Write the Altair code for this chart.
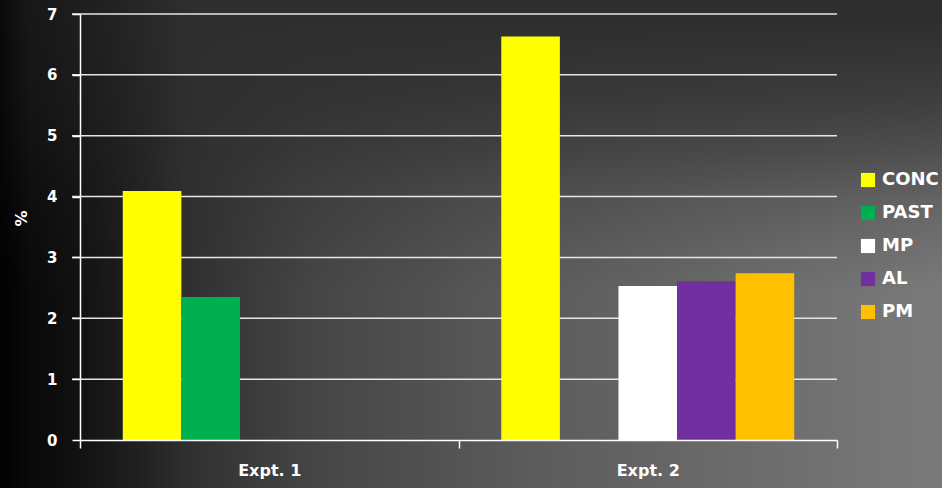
import altair as alt
import pandas as pd

experiments = ["Expt. 1", "Expt. 2"]
series = ["CONC", "PAST", "MP", "AL", "PM"]
colors = ["#FFFF00", "#00B050", "#FFFFFF", "#7030A0", "#FFC000"]
expt1_values = {"CONC": 4.09, "PAST": 2.35}
expt2_values = {"CONC": 6.63, "MP": 2.53, "AL": 2.61, "PM": 2.74}
y_ticks = [0, 1, 2, 3, 4, 5, 6, 7]

rows = []
for s, v in expt1_values.items():
    rows.append({"exp": experiments[0], "series": s, "value": v})
for s, v in expt2_values.items():
    rows.append({"exp": experiments[1], "series": s, "value": v})
df = pd.DataFrame(rows)
grid_df = pd.DataFrame({"v": y_ticks[1:]})

W, H = 757, 426
FONT = "DejaVu Sans"


def g(v):
    return "#%02x%02x%02x" % (v, v, v)


y_axis = alt.Axis(
    values=y_ticks, grid=False, zindex=1, domainColor="white", domainWidth=1.5,
    tickColor="white", tickSize=8, tickWidth=1.5,
    labelColor="white", labelFont=FONT, labelFontWeight="bold", labelFontSize=15,
    labelPadding=15, title="%", titleColor="white", titleFont=FONT,
    titleFontWeight="bold", titleFontSize=16, titleX=-59, titleY=204,
    titleBaseline="middle", titleAngle=-90,
)
y_scale = alt.Scale(domain=[0, 7], nice=False)

full = dict(x=alt.value(-80), x2=alt.value(W + 105), y=alt.value(-14), y2=alt.value(H + 48))

bg = alt.Chart(alt.Data(values=[{"a": 1}])).mark_rect(
    fill={
        "gradient": "linear", "x1": 0, "y1": 0, "x2": 1, "y2": 0,
        "stops": [
            {"offset": 0, "color": g(8)},
            {"offset": 0.03, "color": g(18)},
            {"offset": 0.085, "color": g(28)},
            {"offset": 0.2, "color": g(48)},
            {"offset": 0.33, "color": g(69)},
            {"offset": 0.57, "color": g(92)},
            {"offset": 0.74, "color": g(104)},
            {"offset": 1, "color": g(122)},
        ],
    }
).encode(**full)

top_shade = alt.Chart(alt.Data(values=[{"a": 1}])).mark_rect(
    fill={
        "gradient": "linear", "x1": 0, "y1": 0, "x2": 0, "y2": 1,
        "stops": [
            {"offset": 0, "color": "rgba(46,46,46,1)"},
            {"offset": 0.04, "color": "rgba(46,46,46,1)"},
            {"offset": 0.2, "color": "rgba(46,46,46,0.8)"},
            {"offset": 0.31, "color": "rgba(46,46,46,0.56)"},
            {"offset": 0.41, "color": "rgba(46,46,46,0.29)"},
            {"offset": 0.51, "color": "rgba(46,46,46,0.12)"},
            {"offset": 0.6, "color": "rgba(46,46,46,0)"},
            {"offset": 1, "color": "rgba(46,46,46,0)"},
        ],
    }
).encode(**full)

left_shade = alt.Chart(alt.Data(values=[{"a": 1}])).mark_rect(
    fill={
        "gradient": "linear", "x1": 0, "y1": 0, "x2": 1, "y2": 0,
        "stops": [
            {"offset": 0, "color": "rgba(0,0,0,0.8)"},
            {"offset": 0.03, "color": "rgba(0,0,0,0.5)"},
            {"offset": 0.09, "color": "rgba(0,0,0,0.35)"},
            {"offset": 0.2, "color": "rgba(0,0,0,0)"},
            {"offset": 1, "color": "rgba(0,0,0,0)"},
        ],
    }
).encode(**full)

grid = alt.Chart(grid_df).mark_rule(color="#e6e6e6", strokeWidth=1.5).encode(
    y=alt.Y("v:Q", scale=y_scale, axis=y_axis),
    x=alt.value(-8), x2=alt.value(W),
)

bars = alt.Chart(df).mark_bar().encode(
    x=alt.X("exp:N", sort=experiments,
            scale=alt.Scale(domain=experiments, paddingInner=0, paddingOuter=0),
            axis=alt.Axis(title=None, labelAngle=0, tickBand="extent", zindex=1,
                          domainColor="white", domainWidth=1.5,
                          tickColor="white", tickSize=8, tickWidth=1.5,
                          labelColor="white", labelFont=FONT, labelFontWeight="bold",
                          labelFontSize=16, labelPadding=14)),
    xOffset=alt.XOffset("series:N",
                        scale=alt.Scale(domain=series, paddingInner=0, paddingOuter=0.73)),
    y=alt.Y("value:Q", scale=y_scale, axis=y_axis),
    color=alt.Color("series:N", scale=alt.Scale(domain=series, range=colors),
                    legend=alt.Legend(title=None, orient="none", legendX=779, legendY=157,
                                      symbolType="square", symbolSize=200,
                                      symbolStrokeWidth=0, symbolOpacity=1,
                                      labelColor="white", labelFont=FONT,
                                      labelFontWeight="bold", labelFontSize=18,
                                      labelOffset=5, rowPadding=15, padding=0)),
)

chart = alt.layer(bg, top_shade, left_shade, grid, bars).properties(
    width=W, height=H,
    autosize=alt.AutoSizeParams(type="none"),
    padding={"left": 80, "top": 14, "right": 105, "bottom": 48},
).configure(background="#2e2e2e").configure_view(stroke=None)

chart.save("out.html", embed_options={"renderer": "svg", "actions": False})
